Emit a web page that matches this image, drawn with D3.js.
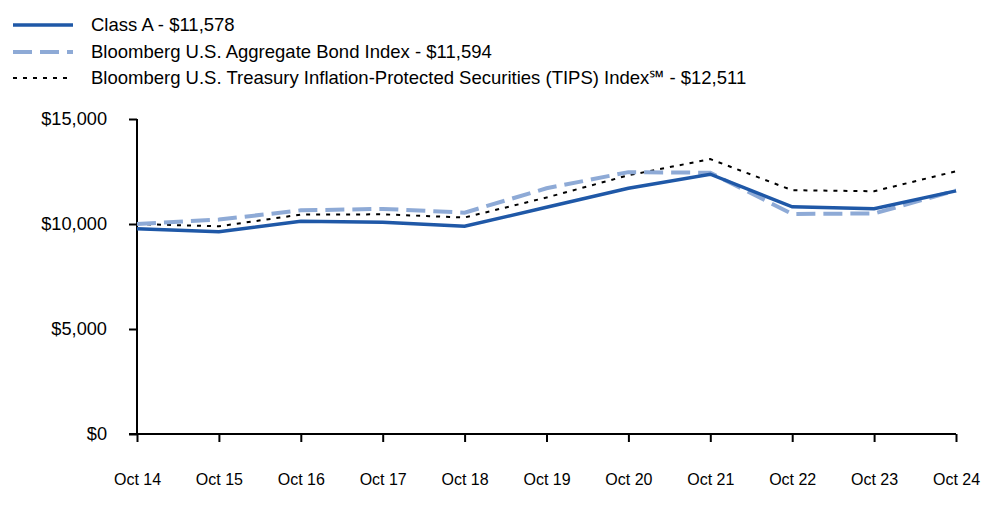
<!DOCTYPE html>
<html>
<head>
<meta charset="utf-8">
<script src="https://cdn.jsdelivr.net/npm/d3@7"></script>
<style>
  html, body { margin: 0; padding: 0; background: #fff; }
  svg { display: block; font-family: Arial, "Liberation Sans", sans-serif; }
</style>
</head>
<body>
<svg id="chart" width="1000" height="523"></svg>
<script>
const categories = ["Oct 14","Oct 15","Oct 16","Oct 17","Oct 18","Oct 19","Oct 20","Oct 21","Oct 22","Oct 23","Oct 24"];
const classA    = [9775, 9630, 10130, 10080, 9890, 10800, 11700, 12370, 10820, 10730, 11578];
const aggBond   = [10000, 10210, 10650, 10720, 10540, 11700, 12470, 12440, 10480, 10500, 11594];
const tips      = [10000, 9890, 10450, 10460, 10310, 11260, 12320, 13090, 11610, 11560, 12511];
const yTicks    = [0, 5000, 10000, 15000];
const seriesNames = [
  "Class A - $11,578",
  "Bloomberg U.S. Aggregate Bond Index - $11,594",
  "Bloomberg U.S. Treasury Inflation-Protected Securities (TIPS) Index\u2120 - $12,511"
];

const svg = d3.select("#chart");
const x = d3.scalePoint().domain(categories).range([137, 956]);
const y = d3.scaleLinear().domain([0, 15000]).range([434, 119]);

const series = [
  { values: classA, color: "#1f58a7", width: 3.5, dash: null },
  { values: aggBond, color: "#8eaad6", width: 4, dash: "19,8" },
  { values: tips, color: "#000000", width: 2, dash: "4,6" }
];

// Y axis
const yAxis = svg.append("g").attr("transform", "translate(137,0)")
  .call(d3.axisLeft(y).tickValues(yTicks).tickSize(8).tickPadding(22)
    .tickFormat(d => "$" + d3.format(",")(d)));
yAxis.select(".domain").attr("stroke", "#000").attr("stroke-width", 2).attr("d", "M0,119V434");
yAxis.selectAll(".tick line").attr("stroke", "#000").attr("stroke-width", 2);
yAxis.selectAll("text").attr("font-size", 18.2).attr("fill", "#000")
  .attr("font-family", "Arial, 'Liberation Sans', sans-serif");

// X axis
const xAxis = svg.append("g").attr("transform", "translate(0,434)")
  .call(d3.axisBottom(x).tickSize(8).tickPadding(32));
xAxis.select(".domain").attr("stroke", "#000").attr("stroke-width", 2).attr("d", "M129,0H956");
xAxis.selectAll(".tick line").attr("stroke", "#000").attr("stroke-width", 2);
xAxis.selectAll("text").attr("font-size", 16).attr("fill", "#000")
  .attr("font-family", "Arial, 'Liberation Sans', sans-serif");

// Lines (draw TIPS, agg, then class A on top)
const line = d3.line().x((d, i) => x(categories[i])).y(d => y(d));
[series[2], series[1], series[0]].forEach(s => {
  svg.append("path")
    .datum(s.values)
    .attr("d", line)
    .attr("fill", "none")
    .attr("stroke", s.color)
    .attr("stroke-width", s.width)
    .attr("stroke-dasharray", s.dash)
    .attr("stroke-linejoin", "miter");
});

// Legend
const legendY = [25, 52, 78];
series.forEach((s, i) => {
  svg.append("line")
    .attr("x1", 13).attr("x2", 73)
    .attr("y1", legendY[i]).attr("y2", legendY[i])
    .attr("stroke", s.color)
    .attr("stroke-width", s.width)
    .attr("stroke-dasharray", s.dash);
  svg.append("text")
    .attr("x", 91).attr("y", legendY[i])
    .attr("dy", "0.35em")
    .attr("font-size", 18.5)
    .attr("fill", "#000")
    .text(seriesNames[i]);
});
</script>
</body>
</html>
